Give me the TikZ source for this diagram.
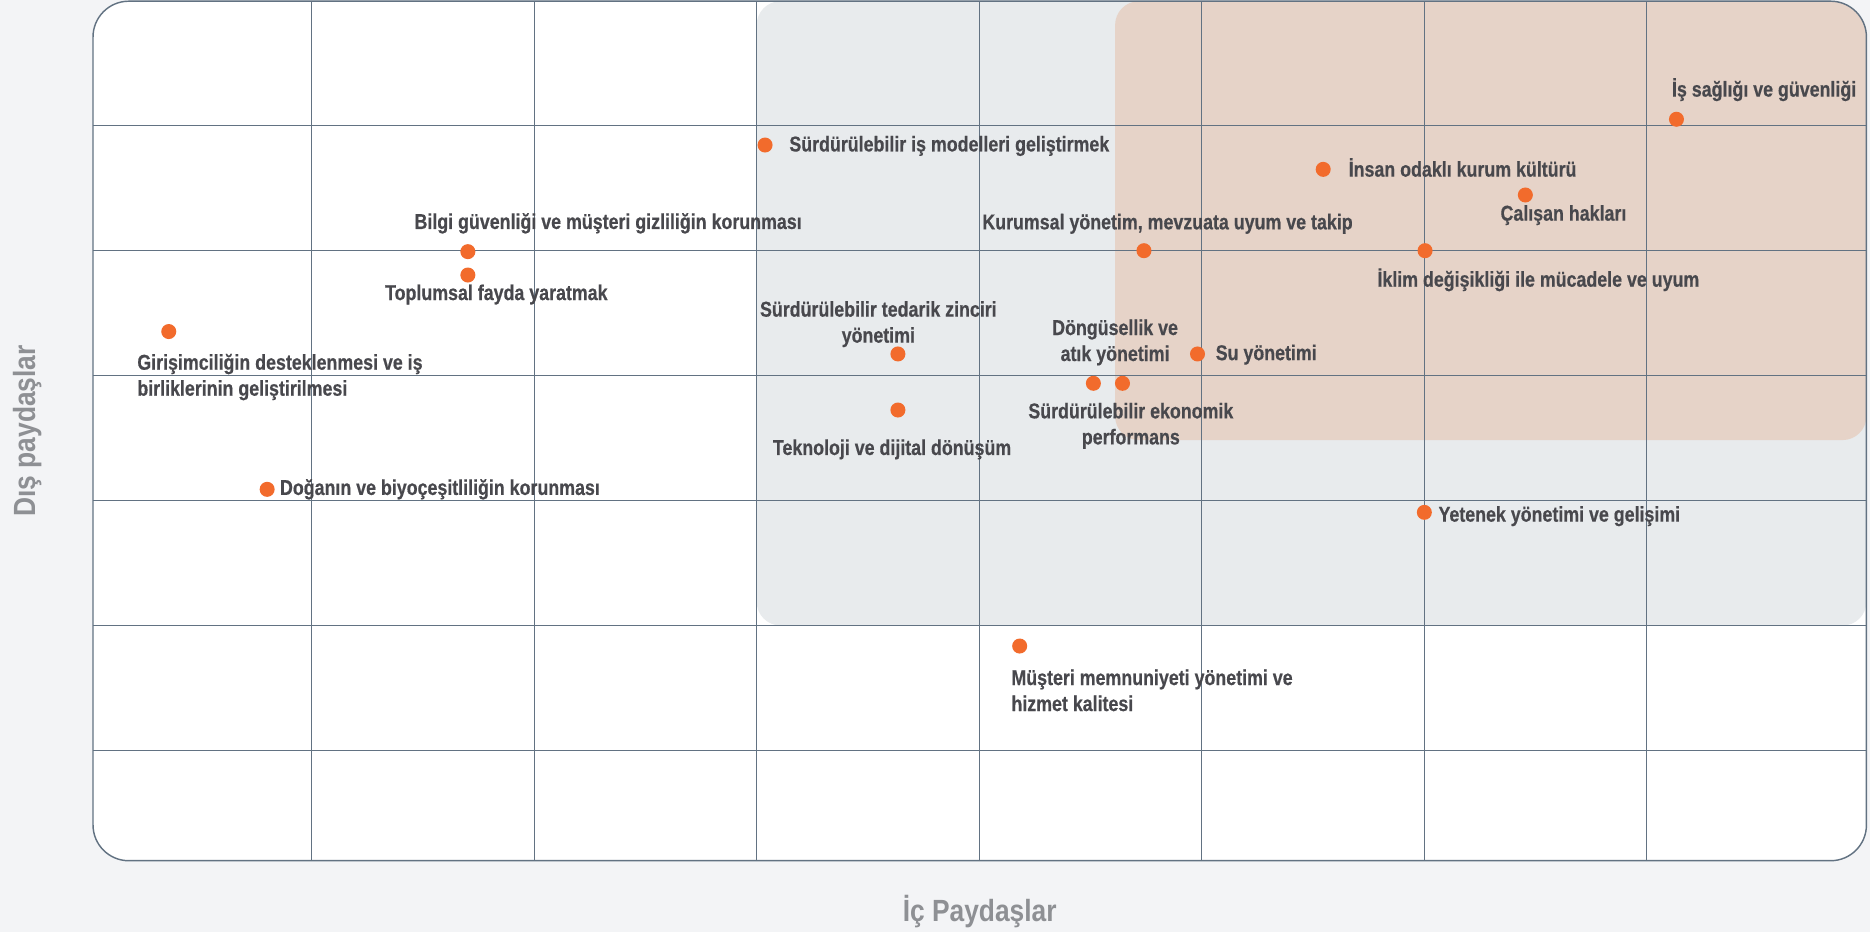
\documentclass[tikz,border=0pt]{standalone}
\usepackage{fontspec}
\newfontfamily\lblfont{Liberation Sans}[FakeStretch=0.83,FakeBold=0.5]
\newfontfamily\axisfont{Liberation Sans}[FakeStretch=0.86]
\definecolor{pagebg}{HTML}{F3F4F6}
\definecolor{zonegrey}{HTML}{E8EBED}
\definecolor{zoneorange}{HTML}{E6D3C8}
\definecolor{gridslate}{HTML}{627282}
\definecolor{dotorange}{HTML}{F26B2C}
\definecolor{lbltext}{HTML}{48484D}
\definecolor{axistext}{HTML}{8E9094}
\tikzset{
  dot/.style={circle,fill=dotorange,inner sep=0pt,minimum size=12.6pt},
  topic/.style={inner sep=0pt,text=lbltext,font=\lblfont\bfseries\fontsize{18}{21.8}\selectfont},
  axislbl/.style={inner sep=0pt,text=axistext,font=\axisfont\bfseries\fontsize{25.7}{30}\selectfont},
  gridline/.style={draw=gridslate,line width=1pt},
}

\begin{document}
\begin{tikzpicture}[x=1pt,y=-1pt]
\useasboundingbox[fill=pagebg] (0,0) rectangle (1568,781.5);
\fill[white,rounded corners=30pt] (78,1) rectangle (1565,721.7);
\begin{scope}
\clip[rounded corners=30pt] (78,1) rectangle (1565,721.7);
\fill[zonegrey,rounded corners=20pt] (634.5,1) rectangle (1565,524.5);
\fill[zoneorange,rounded corners=20pt] (935,1) rectangle (1565,369);
\foreach \gx in {261.3,447.9,634.5,821.1,1007.7,1194.3,1380.9}
  \draw[gridline] (\gx,1) -- (\gx,721.7);
\foreach \gy in {105.5,210.2,314.9,419.6,524.3,629}
  \draw[gridline] (78,\gy) -- (1565,\gy);
\end{scope}
\draw[gridslate,line width=1.2pt,rounded corners=30pt] (78,1) rectangle (1565,721.7);

% topics
\foreach \n/\x/\y in {girisim/141.5/278,bilgi/392.3/211,toplum/392.3/230.6,
  doga/224/410.3,ismodel/641.5/121.6,tedarik/752.9/296.8,teknoloji/752.9/343.8,
  kurumsal/959.2/210.2,dongu/916.8/321.4,ekonomik/941.2/321.4,su/1004.1/296.8,
  insan/1109.5/142,calisan/1279/163.5,iklim/1194.9/210.2,isg/1405.7/100,
  yetenek/1194.3/429.6,musteri/855/541.7}
  \node[dot] (\n) at (\x,\y) {};

\node[topic,align=left,anchor=base west] (girisimLbl) at (115,331.8) {Girişimciliğin desteklenmesi ve iş\\birliklerinin geliştirilmesi};
\node[topic,anchor=base west] (bilgiLbl) at (347.4,192) {Bilgi güvenliği ve müşteri gizliliğin korunması};
\node[topic,anchor=base west] (toplumLbl) at (322.7,251.6) {Toplumsal fayda yaratmak};
\node[topic,anchor=base west] (dogaLbl) at (234.6,415) {Doğanın ve biyoçeşitliliğin korunması};
\node[topic,anchor=base west] (ismodelLbl) at (661.7,127) {Sürdürülebilir iş modelleri geliştirmek};
\node[topic,align=center,anchor=base] (tedarikLbl) at (736.5,287.3) {Sürdürülebilir tedarik zinciri\\yönetimi};
\node[topic,anchor=base west] (teknolojiLbl) at (647.9,381.5) {Teknoloji ve dijital dönüşüm};
\node[topic,anchor=base west] (kurumsalLbl) at (823.5,192.3) {Kurumsal yönetim, mevzuata uyum ve takip};
\node[topic,align=center,anchor=base] (donguLbl) at (935,302.7) {Döngüsellik ve\\atık yönetimi};
\node[topic,align=center,anchor=base] (ekonomikLbl) at (948.2,372.6) {Sürdürülebilir ekonomik\\performans};
\node[topic,anchor=base west] (suLbl) at (1019.2,302) {Su yönetimi};
\node[topic,anchor=base west] (insanLbl) at (1130.7,148.1) {İnsan odaklı kurum kültürü};
\node[topic,anchor=base west] (calisanLbl) at (1258,185) {Çalışan hakları};
\node[topic,anchor=base west] (iklimLbl) at (1154.8,240.4) {İklim değişikliği ile mücadele ve uyum};
\node[topic,anchor=base west] (isgLbl) at (1401.8,81) {İş sağlığı ve güvenliği};
\node[topic,anchor=base west] (yetenekLbl) at (1206,437.4) {Yetenek yönetimi ve gelişimi};
\node[topic,align=left,anchor=base west] (musteriLbl) at (847.9,596.2) {Müşteri memnuniyeti yönetimi ve\\hizmet kalitesi};

% axes
\node[axislbl,anchor=base] (icAxis) at (821.5,772.8) {İç Paydaşlar};
\node[axislbl,rotate=90,anchor=base] (disAxis) at (29.4,361.3) {Dış paydaşlar};
\end{tikzpicture}
\end{document}
